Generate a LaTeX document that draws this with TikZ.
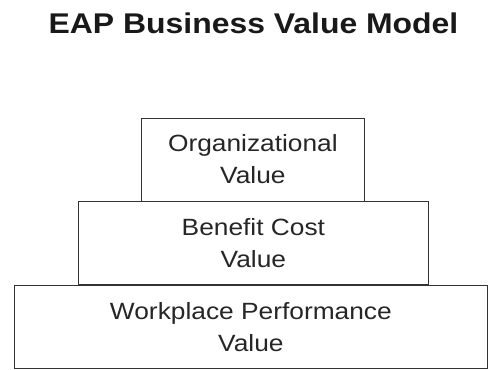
\documentclass[tikz,border=0pt]{standalone}
\usepackage{fontspec}
\setmainfont{Liberation Sans}[FakeStretch=1.12]
\usepackage{tikz}
\usetikzlibrary{calc}

\begin{document}
\begin{tikzpicture}[x=1pt,y=1pt,tier/.style={draw=black!80,line width=0.8pt,fill=white,align=center,inner sep=0pt,minimum height=83pt,text=black!85,font={\fontsize{23.5}{32}\selectfont}}]
                \useasboundingbox (0,0) rectangle (488,370);

                \node[anchor=base,text=black!90] (title) at (253.5,336) {\fontsize{28.5}{34}\selectfont\bfseries EAP Business Value Model};

                \node[anchor=south west,minimum width=473pt,tier] (workplace) at (14,1) {
                    Workplace Performance\\
                    Value
                };

                \node[anchor=south,minimum width=350pt,tier] (benefit) at ($ (workplace.north) + (2.5,0) $) {
                    Benefit Cost\\
                    Value
                };

                \node[anchor=south,minimum width=223pt,tier] (organizational) at ($ (benefit.north) + (-0.5,0) $) {
                    Organizational\\
                    Value
                };
            \end{tikzpicture}
\end{document}
